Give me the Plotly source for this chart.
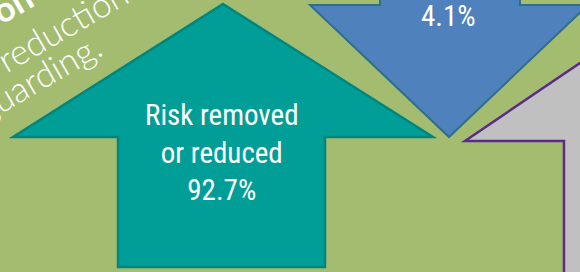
import plotly.graph_objects as go

# ---- data ----
categories = ["Risk removed<br>or reduced", "", ""]
values = [92.7, 4.1, None]
value_labels = ["92.7%", "4.1%", ""]
heading_lines = ["Action", "risk reduction", "safeguarding."]

W, H = 580, 272
BG = "#a3bc70"
TEAL, TEAL_EDGE = "#009e97", "#00857f"
BLUE, BLUE_EDGE = "#4f81bd", "#2f6f8c"
GRAY, GRAY_EDGE = "#c0c0c0", "#5c2a88"

fig = go.Figure()

def poly(pts):
    return "M " + " L ".join(f"{x} {y}" for x, y in pts) + " Z"

shapes = [
    # teal up arrow
    dict(type="path", path=poly([(223, 4), (433, 137), (325, 137), (325, 267),
                                  (118, 267), (118, 137), (13, 137)]),
         fillcolor=TEAL, line=dict(color=TEAL_EDGE, width=2.5)),
    # blue down arrow
    dict(type="path", path=poly([(380, -60), (520, -60), (520, 5), (588, 5),
                                  (449, 137), (310, 5), (380, 5)]),
         fillcolor=BLUE, line=dict(color=BLUE_EDGE, width=2)),
    # gray up arrow (partly visible)
    dict(type="path", path=poly([(465, 141), (680, -5), (895, 141), (800, 141),
                                  (800, 320), (564, 320), (564, 141)]),
         fillcolor=GRAY, line=dict(color=GRAY_EDGE, width=2.5)),
]
for s in shapes:
    s.update(xref="x", yref="y", layer="below")

fig.add_trace(go.Scatter(x=[0, W], y=[0, H], mode="markers",
                         marker=dict(opacity=0), hoverinfo="skip", showlegend=False))

narrow = "Liberation Sans Narrow, Roboto Condensed, Arial Narrow, sans-serif"
thin = "Lato, Open Sans, sans-serif"
ANG = -30

def paper(px, py):
    return px / W, 1 - py / H

annotations = [
    dict(x=222, y=152, xref="x", yref="y", text=f"{categories[0]}<br>{value_labels[0]}",
         font=dict(family=narrow, size=29, color="white")),
    dict(x=448, y=16, xref="x", yref="y", text=value_labels[1],
         font=dict(family=narrow, size=29, color="white")),
]
for (px, py), txt, fnt in [
    ((-16, 19), f"<b>{heading_lines[0]}</b>", dict(family=thin, size=35, color="white")),
    ((35, 41), heading_lines[1], dict(family=thin, size=35, color="white", weight=300)),
    ((11, 92), heading_lines[2], dict(family=thin, size=35, color="white", weight=300)),
]:
    x, y = paper(px, py)
    annotations.append(dict(x=x, y=y, xref="paper", yref="paper", text=txt,
                            textangle=ANG, font=fnt))
for a in annotations:
    a.update(showarrow=False, xanchor="center", yanchor="middle")

fig.update_layout(
    width=W, height=H, margin=dict(l=0, r=0, t=0, b=0),
    paper_bgcolor=BG, plot_bgcolor=BG,
    xaxis=dict(range=[0, W], visible=False, fixedrange=True),
    yaxis=dict(range=[H, 0], visible=False, fixedrange=True),
    shapes=shapes, annotations=annotations, showlegend=False,
)
fig.write_html("out.html", config={"displayModeBar": False},
               post_script="document.body.style.margin='0';document.body.style.padding='0';document.body.style.overflow='hidden';")
